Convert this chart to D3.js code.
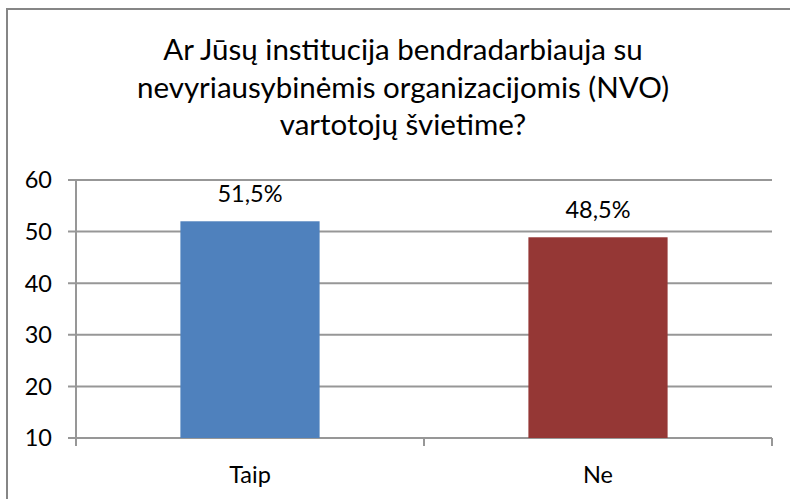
<!DOCTYPE html>
<html>
<head>
<meta charset="utf-8">
<script src="https://cdn.jsdelivr.net/npm/d3@7"></script>
<style>
  body { margin: 0; background: #fff; }
  svg text { font-family: Lato, "Open Sans", sans-serif; fill: #000; }
</style>
</head>
<body>
<div id="chart"></div>
<script>
// data
var categories = ["Taip", "Ne"];
var values = [52, 48.9];
var valueLabels = ["51,5%", "48,5%"];
var yTicks = [10, 20, 30, 40, 50, 60];
var titleLines = [
  "Ar Jūsų institucija bendradarbiauja su",
  "nevyriausybinėmis organizacijomis (NVO)",
  "vartotojų švietime?"
];
var colors = ["#4f81bd", "#953735"];

var width = 790, height = 499;
var margin = {top: 180, right: 18, bottom: 61, left: 76};

var svg = d3.select("#chart")
  .append("svg")
  .attr("width", width)
  .attr("height", height);

// outer chart border (right/bottom fall outside the picture)
svg.append("rect")
  .attr("x", 7).attr("y", 9)
  .attr("width", 795).attr("height", 500)
  .attr("fill", "none")
  .attr("stroke", "#868686")
  .attr("stroke-width", 2);

// title
svg.append("g")
  .selectAll("text")
  .data(titleLines)
  .enter()
  .append("text")
  .attr("x", 403)
  .attr("y", function(d, i) { return 60 + i * 37.5; })
  .attr("text-anchor", "middle")
  .attr("font-size", 29.5)
  .text(function(d) { return d; });

var x = d3.scaleBand()
  .domain(categories)
  .range([margin.left, width - margin.right])
  .paddingInner(0.6)
  .paddingOuter(0.3);

var xOuter = d3.scaleBand()
  .domain(categories)
  .range([margin.left, width - margin.right]);

var y = d3.scaleLinear()
  .domain([10, 60])
  .range([height - margin.bottom, margin.top]);

// gridlines
svg.append("g")
  .selectAll("line")
  .data(yTicks)
  .enter()
  .append("line")
  .attr("x1", margin.left - 8)
  .attr("x2", width - margin.right)
  .attr("y1", function(d) { return y(d); })
  .attr("y2", function(d) { return y(d); })
  .attr("stroke", "#979797")
  .attr("stroke-width", 2);

// y axis labels
svg.append("g")
  .selectAll("text")
  .data(yTicks)
  .enter()
  .append("text")
  .attr("x", 52)
  .attr("y", function(d) { return y(d); })
  .attr("dy", "0.36em")
  .attr("text-anchor", "end")
  .attr("font-size", 23.5)
  .text(function(d) { return d; });

// bars
svg.append("g")
  .selectAll("rect")
  .data(values)
  .enter()
  .append("rect")
  .attr("x", function(d, i) { return x(categories[i]); })
  .attr("width", x.bandwidth())
  .attr("y", function(d) { return y(d); })
  .attr("height", function(d) { return y(10) - y(d); })
  .attr("fill", function(d, i) { return colors[i]; });

// y axis line
svg.append("line")
  .attr("x1", margin.left).attr("x2", margin.left)
  .attr("y1", y(60)).attr("y2", y(10) + 8)
  .attr("stroke", "#979797")
  .attr("stroke-width", 2);

// category tick marks at band boundaries
var boundaries = categories.map(function(c) { return xOuter(c) + xOuter.bandwidth(); });
svg.append("g")
  .selectAll("line")
  .data(boundaries)
  .enter()
  .append("line")
  .attr("x1", function(d) { return d; })
  .attr("x2", function(d) { return d; })
  .attr("y1", y(10))
  .attr("y2", y(10) + 8)
  .attr("stroke", "#979797")
  .attr("stroke-width", 2);

// category labels
svg.append("g")
  .selectAll("text")
  .data(categories)
  .enter()
  .append("text")
  .attr("x", function(d) { return x(d) + x.bandwidth() / 2; })
  .attr("y", 483)
  .attr("text-anchor", "middle")
  .attr("font-size", 23.5)
  .text(function(d) { return d; });

// value labels
svg.append("g")
  .selectAll("text")
  .data(values)
  .enter()
  .append("text")
  .attr("x", function(d, i) { return x(categories[i]) + x.bandwidth() / 2; })
  .attr("y", function(d) { return y(d) - 19; })
  .attr("text-anchor", "middle")
  .attr("font-size", 23.5)
  .text(function(d, i) { return valueLabels[i]; });
</script>
</body>
</html>
